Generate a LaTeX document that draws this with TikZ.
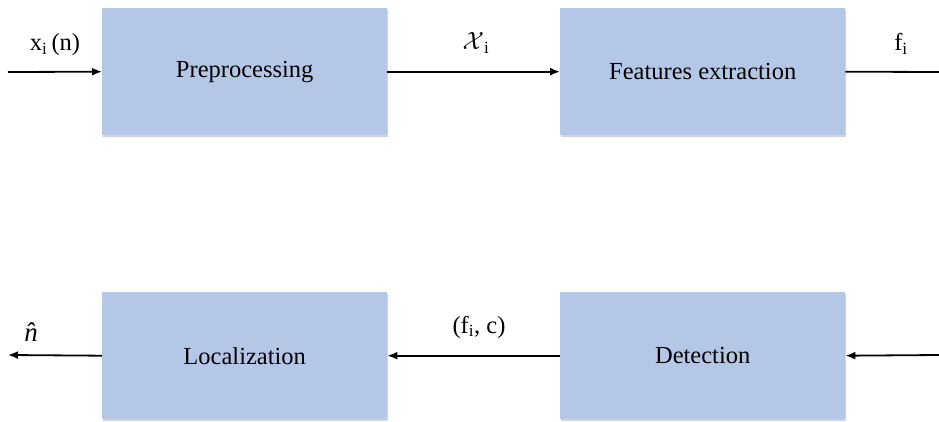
\documentclass[tikz,border=0pt]{standalone}
\usepackage{fontspec}
\setmainfont{Liberation Serif}
\usetikzlibrary{shadows,arrows.meta}
\definecolor{boxblue}{HTML}{B4C7E7}
\begin{document}
\begin{tikzpicture}[x=1pt,y=-1pt,
  block/.style={fill=boxblue, draw=none, minimum width=285pt, minimum height=127pt,
    anchor=north west,
    drop shadow={shadow xshift=1pt, shadow yshift=-2pt, opacity=0.35, fill=gray}},
  lbl/.style={font=\fontsize{24.5}{28}\selectfont, inner sep=0pt},
  flow/.style={line width=1.8pt, -{Latex[length=10pt,width=8pt]}},
  plain/.style={line width=1.8pt}]
\useasboundingbox (0,0) rectangle (939,422);
% processing blocks
\node[block] (pre) at (102,8) {};
\node[lbl] at (pre.center) {Preprocessing};
\node[block] (feat) at (560,8) {};
\node[lbl] at (feat.center) {Features extraction};
\node[block] (loc) at (102,292) {};
\node[lbl] at (loc.center) {Localization};
\node[block] (det) at (560,292) {};
\node[lbl] at (det.center) {Detection};
% free ends of the signal lines
\coordinate (inL) at (8,72);
\coordinate (outR) at (939,72);
\coordinate (inR) at (939,355);
\coordinate (outL) at (8,355);
\draw[flow] (inL) -- (pre.west);
\draw[flow] (pre.east) -- (feat.west);
\draw[plain] (feat.east) -- (outR);
\draw[flow] (inR) -- (det.east);
\draw[flow] (det.west) -- (loc.east);
\draw[flow] (loc.west) -- (outL);
% signal labels
\node[lbl] (lx) at (55,45) {x\textsubscript{i}\,(n)};
\node[lbl] (lX) at (476,43) {$\mathcal{X}$\textsubscript{i}};
\node[lbl] (lf) at (901,44) {f\textsubscript{i}};
\node[lbl, font=\fontsize{27}{30}\selectfont\itshape] (ln) at (31,332) {\^{n}};
\node[lbl] (lfc) at (479,327) {(f\textsubscript{i}, c)};
\end{tikzpicture}
\end{document}
